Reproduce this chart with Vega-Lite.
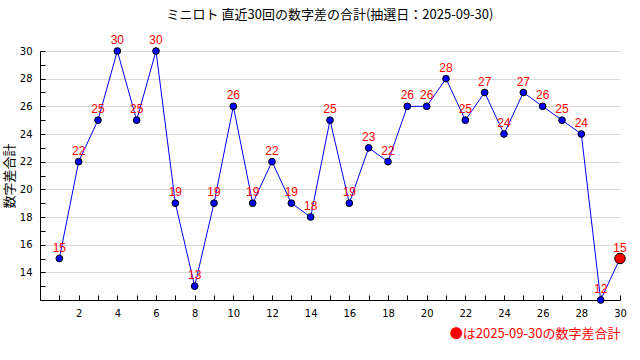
{
  "$schema": "https://vega.github.io/schema/vega-lite/v6.json",
  "width": 580,
  "height": 249,
  "autosize": "none",
  "padding": {"left": 40, "top": 51, "right": 20, "bottom": 60},
  "background": "white",
  "title": {"text": "ミニロト 直近30回の数字差の合計(抽選日：2025-09-30)", "font": "Noto Sans CJK JP", "fontSize": 13, "fontWeight": "normal", "color": "black", "anchor": "middle", "offset": 12},
  "config": {"view": {"stroke": null}, "font": "DejaVu Sans"},
  "data": {"values": [
    {"n": 1, "v": 15}, {"n": 2, "v": 22}, {"n": 3, "v": 25}, {"n": 4, "v": 30}, {"n": 5, "v": 25},
    {"n": 6, "v": 30}, {"n": 7, "v": 19}, {"n": 8, "v": 13}, {"n": 9, "v": 19}, {"n": 10, "v": 26},
    {"n": 11, "v": 19}, {"n": 12, "v": 22}, {"n": 13, "v": 19}, {"n": 14, "v": 18}, {"n": 15, "v": 25},
    {"n": 16, "v": 19}, {"n": 17, "v": 23}, {"n": 18, "v": 22}, {"n": 19, "v": 26}, {"n": 20, "v": 26},
    {"n": 21, "v": 28}, {"n": 22, "v": 25}, {"n": 23, "v": 27}, {"n": 24, "v": 24}, {"n": 25, "v": 27},
    {"n": 26, "v": 26}, {"n": 27, "v": 25}, {"n": 28, "v": 24}, {"n": 29, "v": 12}, {"n": 30, "v": 15}
  ]},
  "encoding": {
    "x": {"field": "n", "type": "quantitative", "scale": {"domain": [0, 30], "nice": false},
      "axis": {
        "values": [1,2,3,4,5,6,7,8,9,10,11,12,13,14,15,16,17,18,19,20,21,22,23,24,25,26,27,28,29,30],
        "labelExpr": "datum.value % 2 == 0 ? datum.label : ''",
        "grid": false, "tickSize": -5, "tickColor": "black", "domainColor": "black",
        "labelColor": "black", "labelFontSize": 10, "labelPadding": 13, "labelFlush": false,
        "title": "●は2025-09-30の数字差合計", "titleColor": "red", "titleAnchor": "end",
        "titleFont": "Noto Sans CJK JP", "titleFontSize": 13, "titleFontWeight": "normal", "titlePadding": 9
      }},
    "y": {"field": "v", "type": "quantitative", "scale": {"domain": [12, 30], "nice": false, "zero": false},
      "axis": {
        "values": [12,13,14,15,16,17,18,19,20,21,22,23,24,25,26,27,28,29,30],
        "labelExpr": "datum.value % 2 == 0 && datum.value > 12 ? datum.label : ''",
        "grid": true,
        "gridColor": {"condition": {"test": "datum.value % 2 == 0", "value": "#d9d9d9"}, "value": "transparent"},
        "tickSize": -5, "tickColor": "black", "domainColor": "black",
        "labelColor": "black", "labelFontSize": 10, "labelPadding": 13,
        "title": "数字差合計", "titleColor": "black", "titleFont": "Noto Sans CJK JP",
        "titleFontSize": 13, "titleFontWeight": "normal", "titlePadding": 3
      }}
  },
  "layer": [
    {"mark": {"type": "line", "color": "#0000ff", "strokeWidth": 1}},
    {"transform": [{"filter": "datum.n != 30"}],
     "mark": {"type": "point", "filled": true, "fill": "#0000ff", "stroke": "black", "strokeWidth": 1, "size": 45, "opacity": 1}},
    {"transform": [{"filter": "datum.n == 30"}],
     "mark": {"type": "point", "filled": true, "fill": "#ff0000", "stroke": "black", "strokeWidth": 1, "size": 110, "opacity": 1}},
    {"mark": {"type": "text", "color": "#ff0000", "font": "Liberation Sans", "fontSize": 12, "baseline": "middle", "dy": -11},
     "encoding": {"text": {"field": "v", "type": "quantitative"}}}
  ]
}
